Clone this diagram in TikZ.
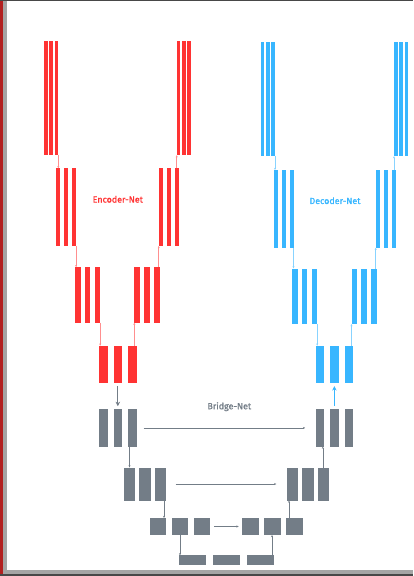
\documentclass[tikz,border=0pt]{standalone}
\usepackage{fontspec}
\newfontfamily\labelfont{Fira Sans}[UprightFeatures={FakeBold=1.2}]
\usepackage{tikz}
\usetikzlibrary{arrows.meta,calc}

\definecolor{encred}{RGB}{255,51,51}
\definecolor{decblue}{RGB}{56,182,255}
\definecolor{brgray}{RGB}{115,125,135}
\definecolor{framered}{RGB}{178,32,32}
\definecolor{framegray}{RGB}{165,165,165}
\definecolor{framedark}{RGB}{72,72,72}

\begin{document}
\begin{tikzpicture}[x=1pt, y=-1pt,
    bar/.style={rectangle, inner sep=0pt, outer sep=0pt, anchor=north west},
    ebar/.style={bar, fill=encred},
    dbar/.style={bar, fill=decblue},
    gbar/.style={bar, fill=brgray},
    szA/.style={minimum width=3.7pt, minimum height=114.5pt},
    szB/.style={minimum width=4pt, minimum height=77.7pt},
    szC/.style={minimum width=5.6pt, minimum height=55.5pt},
    szD/.style={minimum width=8.3pt, minimum height=37.4pt},
    szF/.style={minimum width=11.5pt, minimum height=33pt},
    szG/.style={minimum width=16.6pt, minimum height=17pt},
    szH/.style={minimum width=26.7pt, minimum height=10pt},
    link/.style={-{Stealth[length=2.2pt,width=2pt]}, line width=0.5pt},
    elink/.style={link, encred!55},
    dlink/.style={link, decblue!60},
    glink/.style={link, brgray},
    bigarrow/.style={-{Stealth[length=4.5pt,width=4.5pt]}, line width=1.2pt, shorten <=3pt, shorten >=3pt},
    netlabel/.style={font=\labelfont\fontsize{8.9}{10}\selectfont},
]
    \useasboundingbox (0,0) rectangle (413,576);
    % frame
    \fill[framered] (0,0) rectangle (3,576);
    \fill[framegray] (3,0) rectangle (6.7,576);
    \fill[framedark] (0,0) rectangle (413,1);
    \fill[framegray] (3,570) rectangle (413,573.7);
    \fill[framedark] (0,573.7) rectangle (413,576);

    % encoder
    \foreach \i in {1,2,3} {
        \node[ebar, szA] (e1l\i) at ({44+5.3*(\i-1)}, 40.7) {};
        \node[ebar, szA] (e1r\i) at ({176.7+5.3*(\i-1)}, 40.7) {};
        \node[ebar, szB] (e2l\i) at ({56.3+7.9*(\i-1)}, 168.3) {};
        \node[ebar, szB] (e2r\i) at ({158.7+7.9*(\i-1)}, 168.3) {};
        \node[ebar, szC] (e3l\i) at ({75+9.8*(\i-1)}, 267.2) {};
        \node[ebar, szC] (e3r\i) at ({134.3+9.8*(\i-1)}, 267.2) {};
        \node[ebar, szD] (e4\i) at ({99.2+14.5*(\i-1)}, 345.7) {};
    }
    % decoder
    \foreach \i in {1,2,3} {
        \node[dbar, szA] (d1l\i) at ({260.7+5.3*(\i-1)}, 41.7) {};
        \node[dbar, szA] (d1r\i) at ({394+5.3*(\i-1)}, 41.7) {};
        \node[dbar, szB] (d2l\i) at ({273.7+7.9*(\i-1)}, 170) {};
        \node[dbar, szB] (d2r\i) at ({375.7+7.9*(\i-1)}, 170) {};
        \node[dbar, szC] (d3l\i) at ({292+9.8*(\i-1)}, 268.5) {};
        \node[dbar, szC] (d3r\i) at ({351.5+9.8*(\i-1)}, 268.5) {};
        \node[dbar, szD] (d4\i) at ({315.7+14.5*(\i-1)}, 345.7) {};
    }
    % bridge
    \foreach \i in {1,2,3} {
        \node[gbar, szD] (g1l\i) at ({99.2+14.5*(\i-1)}, 409.2) {};
        \node[gbar, szD] (g1r\i) at ({315.7+14.5*(\i-1)}, 409.2) {};
        \node[gbar, szF] (g2l\i) at ({123.5+15.5*(\i-1)}, 467.5) {};
        \node[gbar, szF] (g2r\i) at ({286.5+15.5*(\i-1)}, 467.5) {};
        \node[gbar, szG] (g3l\i) at ({149.7+22*(\i-1)}, 518) {};
        \node[gbar, szG] (g3r\i) at ({242.3+22*(\i-1)}, 518) {};
        \node[gbar, szH] (g4\i) at ({179+34*(\i-1)}, 555.3) {};
    }

    \node[netlabel, text=encred] (enclabel) at (117.8,199.3) {Encoder-Net};
    \node[netlabel, text=decblue] (declabel) at (335,200.7) {Decoder-Net};
    \node[netlabel, text=brgray] (brlabel) at (229.3,406.7) {Bridge-Net};

    % encoder links
    \draw[elink] (e1l3.south east) -- (e1l3.south east |- e2l1.north);
    \draw[elink] (e2l3.south east) -- (e2l3.south east |- e3l1.north);
    \draw[elink] (e3l3.south east) -- (e3l3.south east |- e41.north);
    \draw[elink] (e1r1.south west |- e2r3.north) -- (e1r1.south west);
    \draw[elink] (e2r1.south west |- e3r3.north) -- (e2r1.south west);
    \draw[elink] (e3r1.south west |- e43.north) -- (e3r1.south west);
    % decoder links
    \draw[dlink] (d1l3.south east) -- (d1l3.south east |- d2l1.north);
    \draw[dlink] (d2l3.south east) -- (d2l3.south east |- d3l1.north);
    \draw[dlink] (d3l3.south east) -- (d3l3.south east |- d41.north);
    \draw[dlink] (d1r1.south west |- d2r3.north) -- (d1r1.south west);
    \draw[dlink] (d2r1.south west |- d3r3.north) -- (d2r1.south west);
    \draw[dlink] (d3r1.south west |- d43.north) -- (d3r1.south west);
    % bridge links
    \draw[glink] ([xshift=1.3pt]g1l3.south west) -- ([xshift=1.3pt]g1l3.south west |- g2l1.north);
    \draw[glink] ([xshift=-2pt]g2l3.south east) -- ([xshift=-2pt]g2l3.south east |- g3l1.north);
    \draw[glink] ([xshift=1pt]g41.north west |- g3l2.south) -- ([xshift=1pt]g41.north west);
    \draw[glink] ([xshift=-1.7pt]g43.north east) -- ([xshift=-1.7pt]g43.north east |- g3r2.south);
    \draw[glink] ([xshift=2.5pt]g2r1.south west |- g3r3.north) -- ([xshift=2.5pt]g2r1.south west);
    \draw[glink] ([xshift=-1.2pt]g1r1.south east |- g2r3.north) -- ([xshift=-1.2pt]g1r1.south east);
    \draw[glink, shorten <=7pt, shorten >=10.5pt] (g1l3.east) -- (g1r1.west);
    \draw[glink, shorten <=9.7pt, shorten >=10.2pt] (g2l3.east) -- (g2r1.west);
    \draw[glink, shorten <=4pt, shorten >=3.6pt] (g3l3.east) -- (g3r1.west);
    % into and out of the bridge
    \draw[bigarrow, brgray] (e42.south) -- (g1l2.north);
    \draw[bigarrow, decblue] (g1r2.north) -- (d42.south);
\end{tikzpicture}
\end{document}
